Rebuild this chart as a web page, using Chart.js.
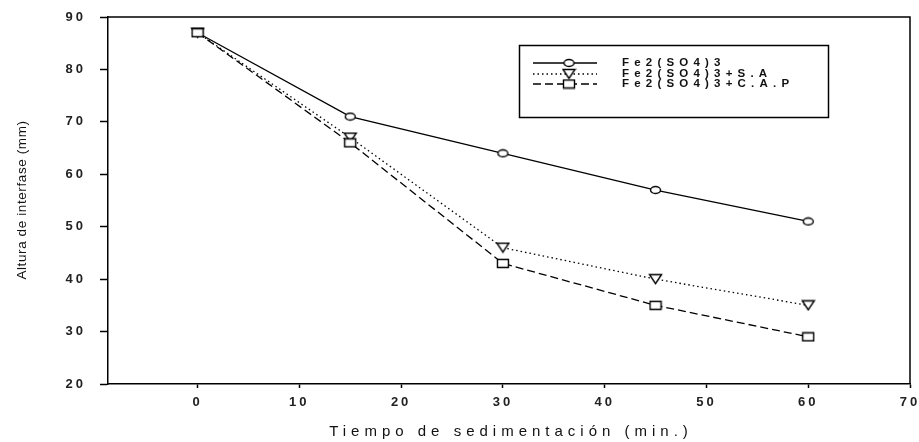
<!DOCTYPE html>
<html>
<head>
<meta charset="utf-8">
<script src="https://cdn.jsdelivr.net/npm/chart.js@4.4.0/dist/chart.umd.min.js"></script>
<style>
  html, body { margin: 0; padding: 0; background: #fff; }
  #wrap { width: 919px; height: 442px; }
</style>
</head>
<body>
<div id="wrap"><canvas id="chart" width="919" height="442"></canvas></div>
<script>
const tiempos = [0, 15, 30, 45, 60];
const serieFe = [87, 71, 64, 57, 51];
const serieSA = [87, 67, 46, 40, 35];
const serieCAP = [87, 66, 43, 35, 29];
const etiquetas = ['Fe2(SO4)3', 'Fe2(SO4)3+S.A', 'Fe2(SO4)3+C.A.P'];
const xTicks = [0, 10, 20, 30, 40, 50, 60, 70];
const yTicks = [20, 30, 40, 50, 60, 70, 80, 90];

// marcadores dibujados en un canvas pequeño (elipse, triangulo invertido, rectangulo)
function marcador(tipo, w, h) {
  const c = document.createElement('canvas');
  c.width = w + 3;
  c.height = h + 3;
  const g = c.getContext('2d');
  const cx = c.width / 2, cy = c.height / 2;
  g.lineWidth = 1.4;
  g.strokeStyle = '#000';
  g.fillStyle = '#fff';
  g.beginPath();
  if (tipo === 'circulo') {
    g.ellipse(cx, cy, w / 2, h / 2, 0, 0, Math.PI * 2);
  } else if (tipo === 'triangulo') {
    g.moveTo(cx - w / 2, cy - h / 2);
    g.lineTo(cx + w / 2, cy - h / 2);
    g.lineTo(cx, cy + h / 2);
    g.closePath();
  } else {
    g.rect(cx - w / 2, cy - h / 2, w, h);
  }
  g.fill();
  g.stroke();
  return c;
}

const mCirculo = marcador('circulo', 10, 7);
const mTriangulo = marcador('triangulo', 12, 9);
const mCuadro = marcador('cuadro', 11, 8);

function puntos(valores) {
  return tiempos.map((t, i) => ({ x: t, y: valores[i] }));
}

const fuente = 'Arial, "Liberation Sans", sans-serif';

const espaciado = {
  id: 'espaciado',
  beforeLayout(chart) { chart.ctx.letterSpacing = '3px'; },
  beforeDraw(chart) { chart.ctx.letterSpacing = '3px'; }
};

const extras = {
  id: 'extras',
  afterDraw(chart) {
    const ctx = chart.ctx;
    const a = chart.chartArea;
    ctx.save();
    // marco superior y derecho
    ctx.strokeStyle = '#000';
    ctx.lineWidth = 1.5;
    ctx.beginPath();
    ctx.moveTo(a.left, a.top);
    ctx.lineTo(a.right, a.top);
    ctx.lineTo(a.right, a.bottom);
    ctx.stroke();

    // titulos de ejes
    ctx.fillStyle = '#111';
    ctx.textAlign = 'center';
    ctx.textBaseline = 'middle';
    ctx.font = '15px ' + fuente;
    ctx.letterSpacing = '5px';
    ctx.fillText('Tiempo de sedimentación (min.)', (a.left + a.right) / 2 + 2, 432);

    ctx.save();
    ctx.translate(22, 200);
    ctx.rotate(-Math.PI / 2);
    ctx.font = '13.5px ' + fuente;
    ctx.letterSpacing = '0.6px';
    ctx.fillText('Altura de interfase (mm)', 0, 0);
    ctx.restore();

    // leyenda
    ctx.lineWidth = 1.5;
    ctx.setLineDash([]);
    ctx.strokeRect(519.5, 45.5, 309, 72);
    const filas = [63, 74, 84];
    const ds = chart.data.datasets;
    ctx.font = 'bold 11.5px ' + fuente;
    ctx.letterSpacing = '5.2px';
    ctx.textAlign = 'left';
    filas.forEach((y, i) => {
      ctx.lineWidth = ds[i].borderWidth;
      ctx.setLineDash(ds[i].borderDash || []);
      ctx.beginPath();
      ctx.moveTo(533, y);
      ctx.lineTo(597, y);
      ctx.stroke();
      ctx.setLineDash([]);
      const m = ds[i].pointStyle;
      ctx.drawImage(m, 569 - m.width / 2, y - m.height / 2);
      ctx.fillText(ds[i].label, 622, y);
    });
    ctx.restore();
  }
};

new Chart(document.getElementById('chart'), {
  type: 'line',
  data: {
    datasets: [
      {
        label: etiquetas[0],
        data: puntos(serieFe),
        borderColor: '#000',
        borderWidth: 1.3,
        pointStyle: mCirculo,
        pointRadius: 5,
        order: 2
      },
      {
        label: etiquetas[1],
        data: puntos(serieSA),
        borderColor: '#000',
        borderWidth: 1.3,
        borderDash: [1.5, 3],
        pointStyle: mTriangulo,
        pointRadius: 5,
        order: 1
      },
      {
        label: etiquetas[2],
        data: puntos(serieCAP),
        borderColor: '#000',
        borderWidth: 1.3,
        borderDash: [8, 4],
        pointStyle: mCuadro,
        pointRadius: 5,
        order: 0
      }
    ]
  },
  options: {
    responsive: false,
    devicePixelRatio: 1,
    animation: false,
    layout: { padding: { left: 0, top: 17, right: 9, bottom: 0 } },
    plugins: {
      legend: { display: false },
      tooltip: { enabled: false }
    },
    elements: { line: { tension: 0, fill: false } },
    scales: {
      x: {
        type: 'linear',
        min: -8.8,
        max: 70,
        afterBuildTicks: s => { s.ticks = xTicks.map(v => ({ value: v })); },
        afterFit: s => { s.height = 58; s.paddingLeft = 0; s.paddingRight = 0; },
        grid: { drawOnChartArea: false, drawTicks: true, tickLength: 4, tickColor: '#000', tickWidth: 1.5 },
        border: { color: '#000', width: 1.5 },
        ticks: { color: '#222', font: { family: fuente, size: 13, weight: 'bold' }, padding: 7, maxRotation: 0, autoSkip: false }
      },
      y: {
        min: 20,
        max: 90,
        afterBuildTicks: s => { s.ticks = yTicks.map(v => ({ value: v })); },
        afterFit: s => { s.width = 108; s.paddingTop = 0; s.paddingBottom = 0; },
        grid: { drawOnChartArea: false, drawTicks: true, tickLength: 8, tickColor: '#000', tickWidth: 1.5 },
        border: { color: '#000', width: 1.5 },
        ticks: { color: '#222', font: { family: fuente, size: 13, weight: 'bold' }, padding: 14, autoSkip: false }
      }
    }
  },
  plugins: [espaciado, extras]
});
</script>
</body>
</html>
